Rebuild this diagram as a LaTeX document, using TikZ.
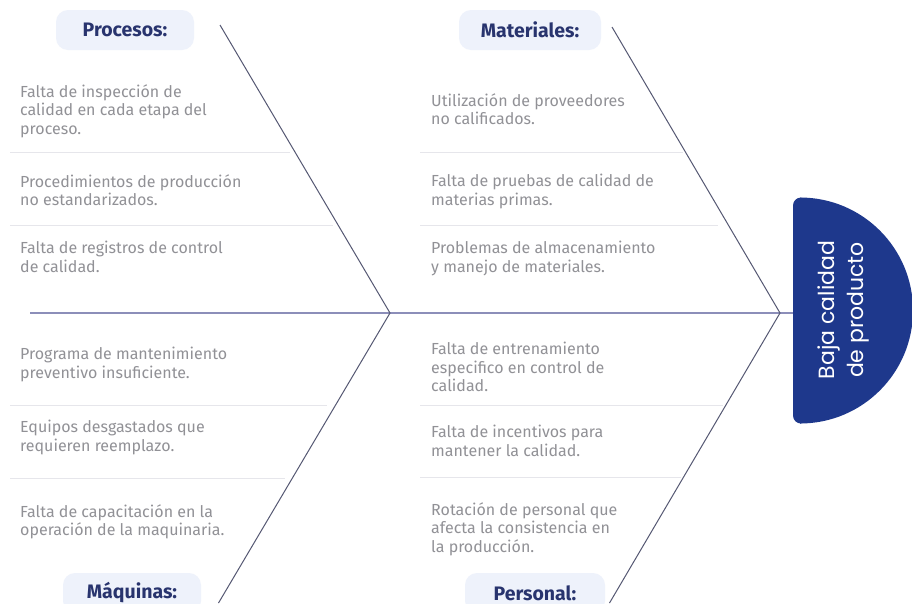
\documentclass[tikz,border=0pt]{standalone}
\usepackage{fontspec}
\setmainfont{Fira Sans}
\newfontfamily\headfont{Poppins}
\definecolor{navy}{RGB}{30,56,140}
\definecolor{hdrtxt}{RGB}{40,52,110}
\definecolor{pill}{RGB}{238,242,251}
\definecolor{bodytxt}{RGB}{145,145,150}
\definecolor{sepcol}{RGB}{230,230,235}
\definecolor{spinecol}{RGB}{140,142,185}
\definecolor{bonecol}{RGB}{85,88,115}
\begin{document}
\begin{tikzpicture}[x=1pt,y=-1pt,
 item/.style={anchor=north west,inner sep=0pt,align=left,text=bodytxt,font=\fontsize{16}{18.5}\selectfont},
 hdr/.style={fill=pill,rounded corners=12pt,minimum height=40pt,inner sep=0pt,text=hdrtxt,font=\fontsize{19.5}{22}\selectfont\bfseries},
 sepline/.style={draw=sepcol,line width=1pt},
 bone/.style={draw=bonecol,line width=1pt},
 spine/.style={draw=spinecol,line width=1.5pt}]
\useasboundingbox (0,0) rectangle (912,603);
\fill[white] (0,0) rectangle (912,603);

% separators
\draw[sepline] (10,152) -- (290,152);
\draw[sepline] (10,225) -- (333,225);
\draw[sepline] (420,152) -- (683,152);
\draw[sepline] (420,225) -- (718,225);
\draw[sepline] (10,405) -- (327,405);
\draw[sepline] (10,478) -- (285,478);
\draw[sepline] (420,405) -- (723,405);
\draw[sepline] (420,477) -- (681,477);

% head
\fill[navy,rounded corners=8pt] (793,197.5) rectangle (808,423.5);
\begin{scope}
\clip (800,150) rectangle (930,470);
\fill[navy] (800,310.5) circle (113);
\end{scope}
\node[rotate=90,align=center,text=white,font=\headfont\fontsize{22}{29}\selectfont] (head) at (843,310) {Baja calidad\\de producto};

% skeleton
\coordinate (tail) at (30,313);
\coordinate (headL) at (793,313);
\coordinate (jL) at (390,313);
\coordinate (jR) at (780,313);
\coordinate (pTop) at (220,25);
\coordinate (pBot) at (218.5,603);
\coordinate (mTop) at (612,27);
\coordinate (mBot) at (609.5,603);
\draw[spine] (tail) -- (headL);
\draw[bone] (pTop) -- (jL) -- (pBot);
\draw[bone] (mTop) -- (jR) -- (mBot);

% headers
\node[hdr,minimum width=138pt] (hProc) at (125,30) {Procesos:};
\node[hdr,minimum width=142pt] (hMat) at (530,30) {Materiales:};
\node[hdr,minimum width=138pt] (hMaq) at (132,593) {Máquinas:};
\node[hdr,minimum width=140pt] (hPer) at (535,593) {Personal:};

% items
\node[item] (p1) at (20,84) {Falta de inspección de\\calidad en cada etapa del\\proceso.};
\node[item] (p2) at (20,174) {Procedimientos de producción\\no estandarizados.};
\node[item] (p3) at (20,241) {Falta de registros de control\\de calidad.};
\node[item] (m1) at (431,93) {Utilización de proveedores\\no calificados.};
\node[item] (m2) at (431,174) {Falta de pruebas de calidad de\\materias primas.};
\node[item] (m3) at (431,241) {Problemas de almacenamiento\\y manejo de materiales.};
\node[item] (q1) at (20,347) {Programa de mantenimiento\\preventivo insuficiente.};
\node[item] (q2) at (20,420) {Equipos desgastados que\\requieren reemplazo.};
\node[item] (q3) at (20,504) {Falta de capacitación en la\\operación de la maquinaria.};
\node[item] (r1) at (431,342) {Falta de entrenamiento\\especifico en control de\\calidad.};
\node[item] (r2) at (431,425) {Falta de incentivos para\\mantener la calidad.};
\node[item] (r3) at (431,502) {Rotación de personal que\\afecta la consistencia en\\la producción.};
\end{tikzpicture}
\end{document}
